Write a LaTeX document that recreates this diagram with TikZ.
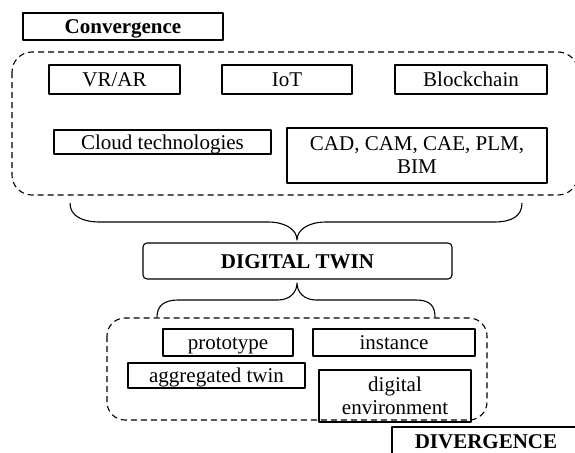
\documentclass[tikz,border=0pt]{standalone}
\usepackage{fontspec}
\setmainfont{Liberation Serif}
\tikzset{
  tbox/.style={draw, line width=1.1pt, inner sep=0pt, align=center, font=\fontsize{21}{23}\selectfont},
  bbox/.style={tbox, font=\fontsize{21}{23}\selectfont\bfseries},
  line1/.style={text height=15pt, text depth=1pt},
  grp/.style={draw, line width=1.1pt, dash pattern=on 6pt off 4pt},
  brace/.style={draw, line width=1.1pt}
}
\begin{document}
\begin{tikzpicture}[x=1pt,y=-1pt,join=round] % Convergence -> twin -> divergence
  \useasboundingbox (0,0) rectangle (575,452);
  \clip (0,0) rectangle (575,452);
  % top group
  \node[bbox, line1, minimum width=200pt, minimum height=27pt] (conv) at (123,26.5) {Convergence};
  \draw[grp, rounded corners=20pt] (12,52) rectangle (578,195);
  \node[tbox, line1, minimum width=131pt, minimum height=29pt] (vrar) at (114.5,79.5) {VR/AR};
  \node[tbox, line1, minimum width=130pt, minimum height=29pt] (iot) at (287,79.5) {IoT};
  \node[tbox, line1, minimum width=152pt, minimum height=29pt] (block) at (471,79.5) {Blockchain};
  \node[tbox, line1, minimum width=217pt, minimum height=24pt] (cloud) at (162.5,142) {Cloud technologies};
  \node[tbox, minimum width=260pt, minimum height=55pt] (cad) at (417,155.5) {CAD, CAM, CAE, PLM,\\BIM};
  % upper brace
  \coordinate (tipa) at (297,240);
  \draw[brace] (70,203) .. controls (70,216) and (82,222) .. (100,222) -- (268,222)
        .. controls (286,222) and (297,230) .. (tipa)
        .. controls (297,230) and (308,222) .. (326,222) -- (494,222)
        .. controls (512,222) and (522,216) .. (522,203);
  \node[bbox, line1, minimum width=309pt, minimum height=36pt, rounded corners=4pt] (dt) at (297.5,261) {DIGITAL TWIN};
  % lower brace
  \coordinate (tipb) at (297,283);
  \draw[brace] (157,317) .. controls (157,306) and (164,300) .. (178,300) -- (278,300)
        .. controls (290,300) and (297,292) .. (tipb)
        .. controls (297,292) and (304,300) .. (316,300) -- (416,300)
        .. controls (430,300) and (435,306) .. (435,317);
  % bottom group
  \draw[grp, rounded corners=18pt] (107,318) rectangle (487,420);
  \node[tbox, line1, minimum width=130pt, minimum height=27pt] (proto) at (228,342.5) {prototype};
  \node[tbox, line1, minimum width=162pt, minimum height=27pt] (inst) at (394,342.5) {instance};
  \node[tbox, line1, minimum width=177pt, minimum height=25pt] (aggr) at (216.5,375.5) {aggregated twin};
  \node[tbox, minimum width=152pt, minimum height=52pt] (denv) at (395,396) {digital\\environment};
  \node[bbox, line1, minimum width=188pt, minimum height=28pt] (div) at (486,441) {DIVERGENCE};
\end{tikzpicture}
\end{document}
